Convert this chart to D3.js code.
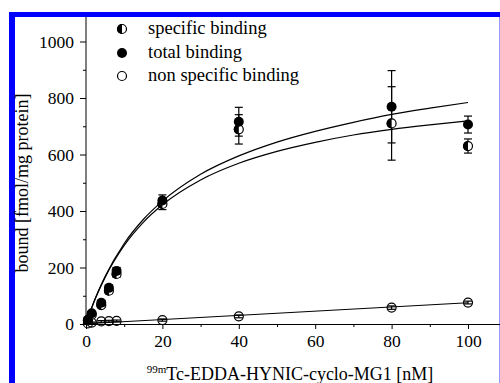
<!DOCTYPE html>
<html><head><meta charset="utf-8">
<script src="https://cdn.jsdelivr.net/npm/d3@7"></script>
<style>body{margin:0;background:#fff}svg{display:block}svg text{font-family:'Liberation Serif','DejaVu Serif','Times New Roman',serif}</style>
</head><body><svg id="c" width="500" height="383"></svg>
<script>
const conc = [0.5, 1.5, 4, 6, 8, 20, 40, 80, 100];
const totalBinding = [15, 38, 75, 128, 188, 437, 716, 769, 706];
const totalErr = [6, 6, 8, 10, 12, 20, 51, 128, 30];
const specificBinding = [13, 33, 67, 118, 177, 425, 689, 710, 630];
const specificErr = [6, 6, 8, 10, 12, 20, 52, 130, 25];
const nonSpecific = [2, 5, 9, 10, 11, 14, 27, 58, 76];
const nonSpecificErr = [2, 2, 3, 3, 3, 4, 5, 6, 5];
const fitX = [0, 2, 5, 10, 15, 20, 30, 40, 50, 60, 70, 80, 90, 100];
const fitTotal = [0, 76, 168, 285, 370, 435, 530, 595, 644, 682, 714, 742, 764, 784];
const fitSpecific = [0, 75, 165, 278, 360, 422, 510, 569, 611, 643, 669, 689, 705, 719];
const nsLineX = [0, 100];
const nsLineY = [1, 75];
const xTicks = [0, 20, 40, 60, 80, 100];
const xMinor = [10, 30, 50, 70, 90];
const yTicks = [0, 200, 400, 600, 800, 1000];
const yMinor = [100, 300, 500, 700, 900];
const legendLabels = ["specific binding", "total binding", "non specific binding"];

const svg = d3.select("#c");
const x = d3.scaleLinear([0, 100], [86, 468]);
const y = d3.scaleLinear([0, 1000], [324, 41.5]);

// frame
svg.append("rect").attr("x", 9).attr("y", 12).attr("width", 491).attr("height", 5).attr("fill", "#0000ff");
svg.append("rect").attr("x", 9).attr("y", 12).attr("width", 6).attr("height", 371).attr("fill", "#0000ff");
svg.append("line").attr("x1", 499.5).attr("x2", 499.5).attr("y1", 17).attr("y2", 383).attr("stroke", "#9999ff").attr("stroke-width", 1);

// axes
function styleAxis(g) {
  g.select(".domain").remove();
  g.selectAll("line").attr("stroke", "#000");
  g.selectAll("text").attr("font-family", null).attr("font-size", 17.5).attr("fill", "#000");
}
svg.append("g").attr("transform", "translate(0,324)")
  .call(d3.axisBottom(x).tickValues(xTicks).tickSize(5).tickPadding(6).tickFormat(d3.format("d"))).call(styleAxis);
svg.append("g").attr("transform", "translate(0,324)")
  .call(d3.axisBottom(x).tickValues(xMinor).tickSize(3).tickFormat("")).call(styleAxis);
svg.append("g").attr("transform", "translate(86,0)")
  .call(d3.axisLeft(y).tickValues(yTicks).tickSize(6).tickPadding(6).tickFormat(d3.format("d"))).call(styleAxis);
svg.append("g").attr("transform", "translate(86,0)")
  .call(d3.axisLeft(y).tickValues(yMinor).tickSize(3).tickFormat("")).call(styleAxis);
svg.selectAll("g").attr("font-family", null);
svg.append("line").attr("x1", 86).attr("x2", 86).attr("y1", 17).attr("y2", 324).attr("stroke", "#000");
svg.append("line").attr("x1", 86).attr("x2", 500).attr("y1", 324.5).attr("y2", 324.5).attr("stroke", "#000");

// axis titles
svg.append("text").attr("transform", "translate(28,183) rotate(-90)").attr("text-anchor", "middle")
  .attr("font-size", 18).text("bound [fmol/mg protein]");
const xt = svg.append("text").attr("x", 290).attr("y", 380).attr("text-anchor", "middle")
  .attr("font-size", 18);
xt.append("tspan").attr("font-size", 11).attr("dy", -7).text("99m");
xt.append("tspan").attr("dy", 7).text("Tc-EDDA-HYNIC-cyclo-MG1 [nM]");

// fit lines
const line = d3.line().x(d => x(d[0])).y(d => y(d[1])).curve(d3.curveMonotoneX);
svg.append("path").attr("d", line(fitX.map((v, i) => [v, fitTotal[i]]))).attr("fill", "none").attr("stroke", "#000").attr("stroke-width", 1.2);
svg.append("path").attr("d", line(fitX.map((v, i) => [v, fitSpecific[i]]))).attr("fill", "none").attr("stroke", "#000").attr("stroke-width", 1.2);
svg.append("path").attr("d", d3.line().x(d => x(d[0])).y(d => y(d[1]))(nsLineX.map((v, i) => [v, nsLineY[i]]))).attr("fill", "none").attr("stroke", "#000").attr("stroke-width", 1.1);

// error bars
function errBars(vals, errs) {
  const g = svg.append("g").attr("stroke", "#000").attr("stroke-width", 1.2);
  conc.forEach((c, i) => {
    const cx = x(c), y1 = y(vals[i] + errs[i]), y2 = y(vals[i] - errs[i]);
    g.append("line").attr("x1", cx).attr("x2", cx).attr("y1", y1).attr("y2", y2);
    g.append("line").attr("x1", cx - 4).attr("x2", cx + 4).attr("y1", y1).attr("y2", y1);
    g.append("line").attr("x1", cx - 4).attr("x2", cx + 4).attr("y1", y2).attr("y2", y2);
  });
}
errBars(nonSpecific, nonSpecificErr);
errBars(specificBinding, specificErr);
errBars(totalBinding, totalErr);

const R = 5;
function openMarker(g, cx, cy) {
  g.append("circle").attr("cx", cx).attr("cy", cy).attr("r", R - 0.5).attr("fill", "none").attr("stroke", "#000").attr("stroke-width", 1.2);
}
function halfMarker(g, cx, cy) {
  g.append("circle").attr("cx", cx).attr("cy", cy).attr("r", R - 0.5).attr("fill", "#fff").attr("stroke", "#000").attr("stroke-width", 1.2);
  g.append("path").attr("d", `M${cx},${cy - R} A${R},${R} 0 0 0 ${cx},${cy + R} Z`).attr("fill", "#000");
}
function fullMarker(g, cx, cy) {
  g.append("circle").attr("cx", cx).attr("cy", cy).attr("r", R).attr("fill", "#000");
}
const mg = svg.append("g");
conc.forEach((c, i) => openMarker(mg, x(c), y(nonSpecific[i])));
conc.forEach((c, i) => halfMarker(mg, x(c), y(specificBinding[i])));
conc.forEach((c, i) => fullMarker(mg, x(c), y(totalBinding[i])));

// legend
const lg = svg.append("g");
const ly = [29, 53, 76];
halfMarker(lg, 122, ly[0]);
fullMarker(lg, 122, ly[1]);
openMarker(lg, 122, ly[2]);
legendLabels.forEach((t, i) => {
  lg.append("text").attr("x", 148).attr("y", ly[i] + 5).attr("font-size", 18.5).text(t);
});
</script></body></html>
